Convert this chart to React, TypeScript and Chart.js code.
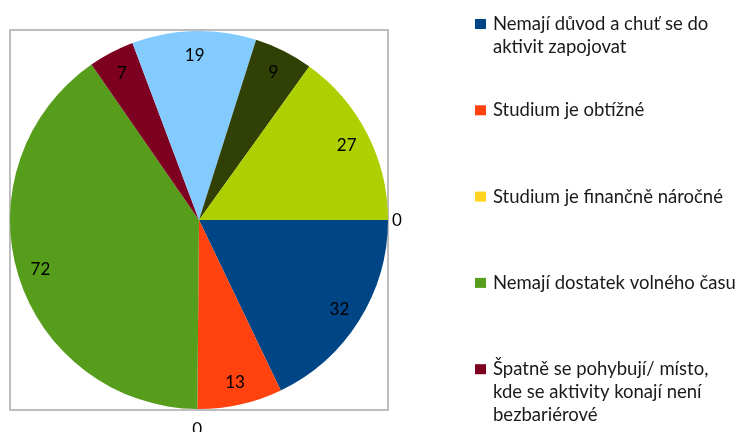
import React, { useEffect, useRef } from "react";
import { Chart, registerables } from "chart.js";

Chart.register(...registerables);

// Category labels (multi-line, as the legend shows them)
const categories: string[][] = [
  ["Nemají důvod a chuť se do", "aktivit zapojovat"],
  ["Studium je obtížné"],
  ["Studium je finančně náročné"],
  ["Nemají dostatek volného času"],
  ["Špatně se pohybují/ místo,", "kde se aktivity konají není", "bezbariérové"],
  ["Kategorie 6"],
  ["Kategorie 7"],
  ["Kategorie 8"],
  ["Kategorie 9"],
];

const values: number[] = [32, 13, 0, 72, 7, 19, 9, 27, 0];

const sliceColors: string[] = [
  "#004586",
  "#ff420e",
  "#ffd320",
  "#579d1c",
  "#7e0021",
  "#83caff",
  "#314004",
  "#aecf00",
  "#4b1f6f",
];

const FONT = "Lato, 'Open Sans', sans-serif";

const framePlugin = {
  id: "frame",
  beforeDraw(chart: any) {
    const ctx = chart.ctx;
    ctx.save();
    ctx.strokeStyle = "#bdbdbd";
    ctx.lineWidth = 2;
    ctx.strokeRect(10, 30, 378, 380);
    ctx.restore();
  },
};

const valueLabelPlugin = {
  id: "valueLabels",
  afterDatasetsDraw(chart: any) {
    const ctx = chart.ctx;
    const meta = chart.getDatasetMeta(0);
    const data = chart.data.datasets[0].data as number[];
    ctx.save();
    ctx.font = `17px ${FONT}`;
    ctx.fillStyle = "#000000";
    ctx.textAlign = "center";
    ctx.textBaseline = "middle";
    meta.data.forEach((arc: any, i: number) => {
      const p = arc.getProps(["x", "y", "startAngle", "endAngle", "outerRadius"], true);
      const mid = (p.startAngle + p.endAngle) / 2;
      const c = Math.cos(mid);
      const s = Math.sin(mid);
      const txt = String(data[i]);
      if (data[i] > 0) {
        const d = p.outerRadius * 0.878;
        ctx.fillText(txt, p.x + c * d, p.y + s * d + 1);
      } else {
        const w = ctx.measureText(txt).width;
        const h = 12;
        const pad = 4 * Math.abs(c) + 13 * Math.abs(s);
        const x = p.x + c * (p.outerRadius + pad) + (c * w) / 2;
        const y = p.y + s * (p.outerRadius + pad) + (s * h) / 2;
        ctx.fillText(txt, x, y + 1);
      }
    });
    ctx.restore();
  },
};

const legendPlugin = {
  id: "sideLegend",
  afterDraw(chart: any) {
    const ctx = chart.ctx;
    const labels = chart.data.labels as string[][];
    const colors = chart.data.datasets[0].backgroundColor as string[];
    ctx.save();
    ctx.font = `18.5px ${FONT}`;
    ctx.textAlign = "left";
    ctx.textBaseline = "alphabetic";
    const lineH = 23;
    const step = 86.3;
    const firstBaseline = 30;
    labels.forEach((lines, i) => {
      const base = firstBaseline + i * step;
      if (base + (lines.length - 1) * lineH > chart.height) return;
      ctx.fillStyle = colors[i];
      ctx.fillRect(475, base - 11, 11, 10);
      ctx.fillStyle = "#1a1a1a";
      lines.forEach((ln, j) => {
        ctx.fillText(ln, 493, base + j * lineH);
      });
    });
    ctx.restore();
  },
};

export default function App() {
  const ref = useRef<HTMLCanvasElement | null>(null);
  useEffect(() => {
    if (!ref.current) return;
    const chart = new Chart(ref.current, {
      type: "pie",
      data: {
        labels: categories,
        datasets: [
          {
            data: values,
            backgroundColor: sliceColors,
            borderWidth: 0,
            hoverBorderWidth: 0,
            hoverOffset: 0,
            offset: 0,
          },
        ],
      },
      options: {
        responsive: false,
        animation: false,
        rotation: 90,
        devicePixelRatio: 1,
        layout: { padding: { left: 10, right: 351, top: 31, bottom: 23 } },
        plugins: {
          legend: { display: false },
          tooltip: { enabled: false },
        },
        events: [],
      },
      plugins: [framePlugin, valueLabelPlugin, legendPlugin],
    });
    return () => chart.destroy();
  }, []);
  return (
    <div style={{ position: "absolute", left: 0, top: 0, width: 739, height: 432, background: "#fff" }}>
      <canvas ref={ref} width={739} height={432} />
    </div>
  );
}
